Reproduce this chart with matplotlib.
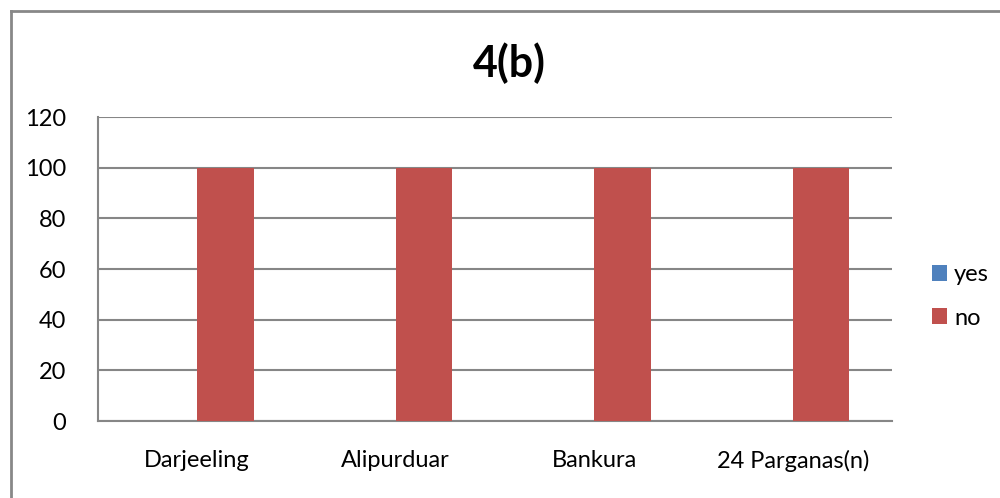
import matplotlib
matplotlib.use("Agg")
import matplotlib.pyplot as plt
import numpy as np
from matplotlib.patches import Patch
from matplotlib.lines import Line2D

categories = ["Darjeeling", "Alipurduar", "Bankura", "24 Parganas(n)"]
yes_values = [0, 0, 0, 0]
no_values = [100, 100, 100, 100]
yticks = [0, 20, 40, 60, 80, 100, 120]
title = "4(b)"

plt.rcParams['font.family'] = ['Lato', 'DejaVu Sans']

fig = plt.figure(figsize=(10, 4.98), dpi=100)
ax = fig.add_axes([0.098, 0.1546, 0.794, 0.6104])

x = np.arange(len(categories))
w = 0.285
blue = "#4F81BD"
red = "#C0504D"
ax.bar(x - w / 2, yes_values, w, color=blue, label="yes")
ax.bar(x + w / 2, no_values, w, color=red, label="no", zorder=3)

ax.set_xlim(-0.5, len(categories) - 0.5)
ax.set_ylim(0, 120)
ax.set_yticks(yticks)
ax.set_yticklabels([str(v) for v in yticks], fontsize=17)
ax.set_xticks(x)
ax.set_xticklabels(categories, fontsize=17)
ax.tick_params(axis='both', length=0, colors='black')
ax.tick_params(axis='y', pad=23)
ax.tick_params(axis='x', pad=21)
ax.yaxis.grid(True, color="#868686", linewidth=1.5, zorder=0)
ax.set_axisbelow(True)
for s in ["top", "right"]:
    ax.spines[s].set_visible(False)
for s in ["left", "bottom"]:
    ax.spines[s].set_color("#868686")
    ax.spines[s].set_linewidth(1.5)

fig.text(0.509, 0.873, title, ha="center", va="center", fontsize=31, fontweight="bold")

handles = [Patch(facecolor=blue, label="yes"), Patch(facecolor=red, label="no")]
fig.legend(handles=handles, loc="center left", bbox_to_anchor=(0.92, 0.405), frameon=False,
           fontsize=17, handlelength=0.65, handleheight=0.65, handletextpad=0.3,
           labelspacing=0.95, borderpad=0)

# outer frame (top and left visible)
fig.add_artist(Line2D([0.0105, 1.0], [1 - 11.5 / 498, 1 - 11.5 / 498], color="#888888", linewidth=2, transform=fig.transFigure))
fig.add_artist(Line2D([0.0105, 0.0105], [0, 1 - 11.5 / 498], color="#888888", linewidth=2, transform=fig.transFigure))

fig.savefig("out.png", dpi=100)
